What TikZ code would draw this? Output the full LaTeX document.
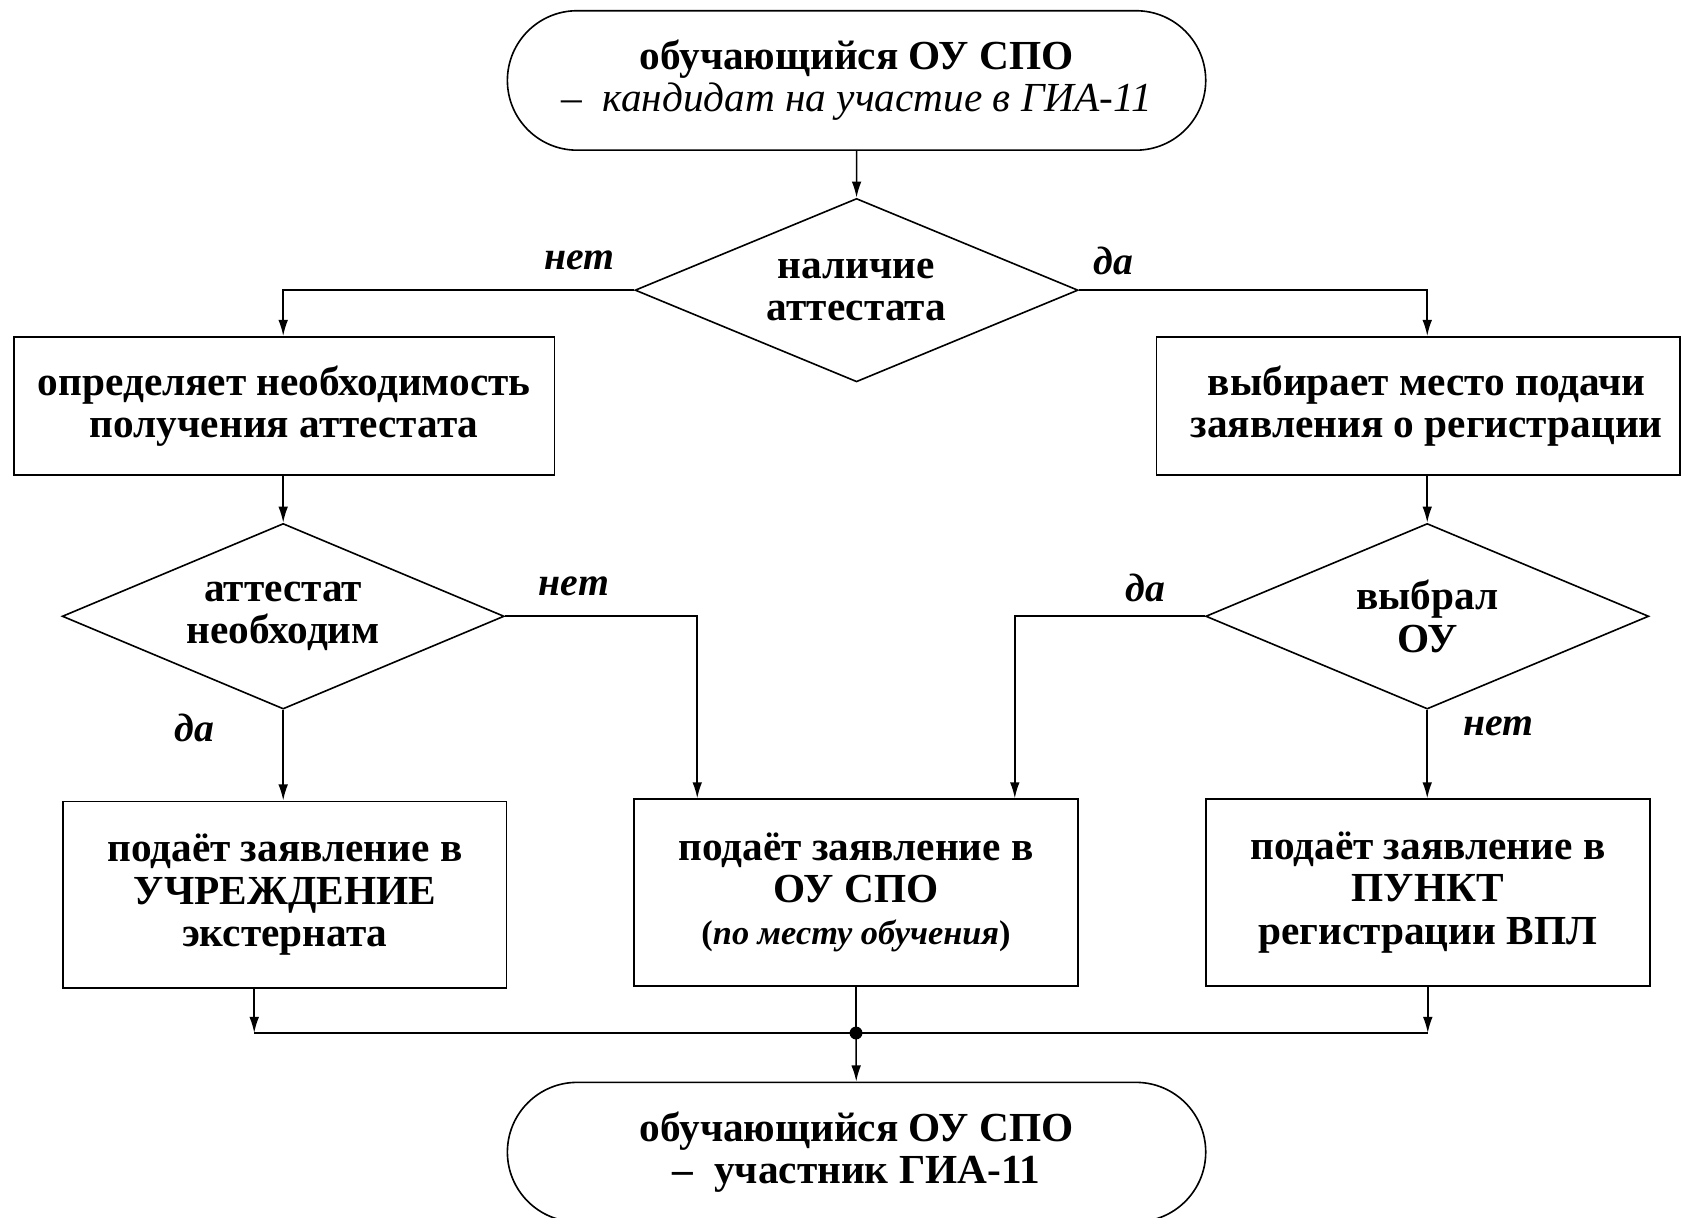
\documentclass[tikz,border=0pt]{standalone}
\usepackage{fontspec}
\setmainfont{Liberation Serif}
\usetikzlibrary{shapes.geometric,shapes.misc,arrows.meta,calc}
\begin{document}
\begin{tikzpicture}[x=1pt,y=-1pt,
  line width=1.5pt,
  every node/.style={font=\fontsize{38.5}{39.5}\selectfont\bfseries, align=center, inner sep=0pt},
  arr/.style={-{Latex[length=15pt,width=9pt]}},
  box/.style={draw, rectangle},
  dec/.style={draw, diamond, aspect=2.4, inner sep=0pt},
  term/.style={draw, rounded rectangle, minimum width=651pt, minimum height=130pt},
  lab/.style={font=\fontsize{37}{40}\selectfont\bfseries\itshape}
]
\useasboundingbox (0,0) rectangle (1568,1135);
% nodes
\node[term] (t1) at (798.5,75) {обучающийся ОУ СПО\\{\mdseries –\ \ \itshape кандидат на участие в ГИА-11}};
\node[dec, minimum width=413pt, minimum height=171pt] (d1) at (798.5,270.5) {наличие\\аттестата};
\node[box, minimum width=504pt, minimum height=129pt] (l1) at (265,378.5) {определяет необходимость\\получения аттестата};
\node[box, minimum width=488pt, minimum height=129pt] (r1) at (1322,378.5) {\hspace*{16pt}выбирает место подачи\\\hspace*{16pt}заявления о регистрации};
\node[dec, minimum width=412pt, minimum height=173pt] (d2) at (264,574.5) {аттестат\\необходим};
\node[dec, minimum width=413pt, minimum height=173pt] (d3) at (1330.5,574.5) {выбрал\\ОУ};
\node[box, minimum width=413pt, minimum height=174pt] (b1) at (265.5,834) {подаёт заявление в\\УЧРЕЖДЕНИЕ\\экстерната};
\node[box, minimum width=414pt, minimum height=174pt] (b2) at (798,832) {подаёт заявление в\\ОУ СПО\\{\fontsize{32}{33}\selectfont(\textit{по месту обучения})}};
\node[box, minimum width=414pt, minimum height=174pt] (b3) at (1331,832) {подаёт заявление в\\ПУНКТ\\регистрации ВПЛ};
\node[term] (t2) at (798.5,1074) {обучающийся ОУ СПО\\–\ \ участник ГИА-11};
% labels
\node[lab] (n1) at (540,243) {нет};
\node[lab] (y1) at (1038,243) {да};
\node[lab] (n2) at (535,547) {нет};
\node[lab] (y2) at (181,679) {да};
\node[lab] (y3) at (1068,548) {да};
\node[lab] (n3) at (1397,677) {нет};
% connectors
\draw[arr] (t1) -- (d1);
\draw[arr] (d1.west) -| (l1.north -| d2.north);
\draw[arr] (d1.east) -| (r1.north -| d3.north);
\draw[arr] (l1.south -| d2.north) -- (d2.north);
\draw[arr] (r1.south -| d3.north) -- (d3.north);
\draw[arr] (d2.south) -- (d2.south |- b1.north);
\draw[arr] (d3.south) -- (d3.south |- b3.north);
\draw[arr] (d2.east) -| ([xshift=-148pt]b2.north);
\draw[arr] (d3.west) -| ([xshift=148pt]b2.north);
\coordinate (j) at (798,963);
\coordinate (jl) at (237,963);
\coordinate (jr) at (b3.south |- j);
\draw[arr] (b1.south -| jl) -- (jl);
\draw[arr] (b3.south) -- (jr);
\draw (jl) -- (jr);
\draw (b2.south) -- (j);
\fill (j) circle (6pt);
\draw[arr] (j) -- (t2);
\end{tikzpicture}
\end{document}
